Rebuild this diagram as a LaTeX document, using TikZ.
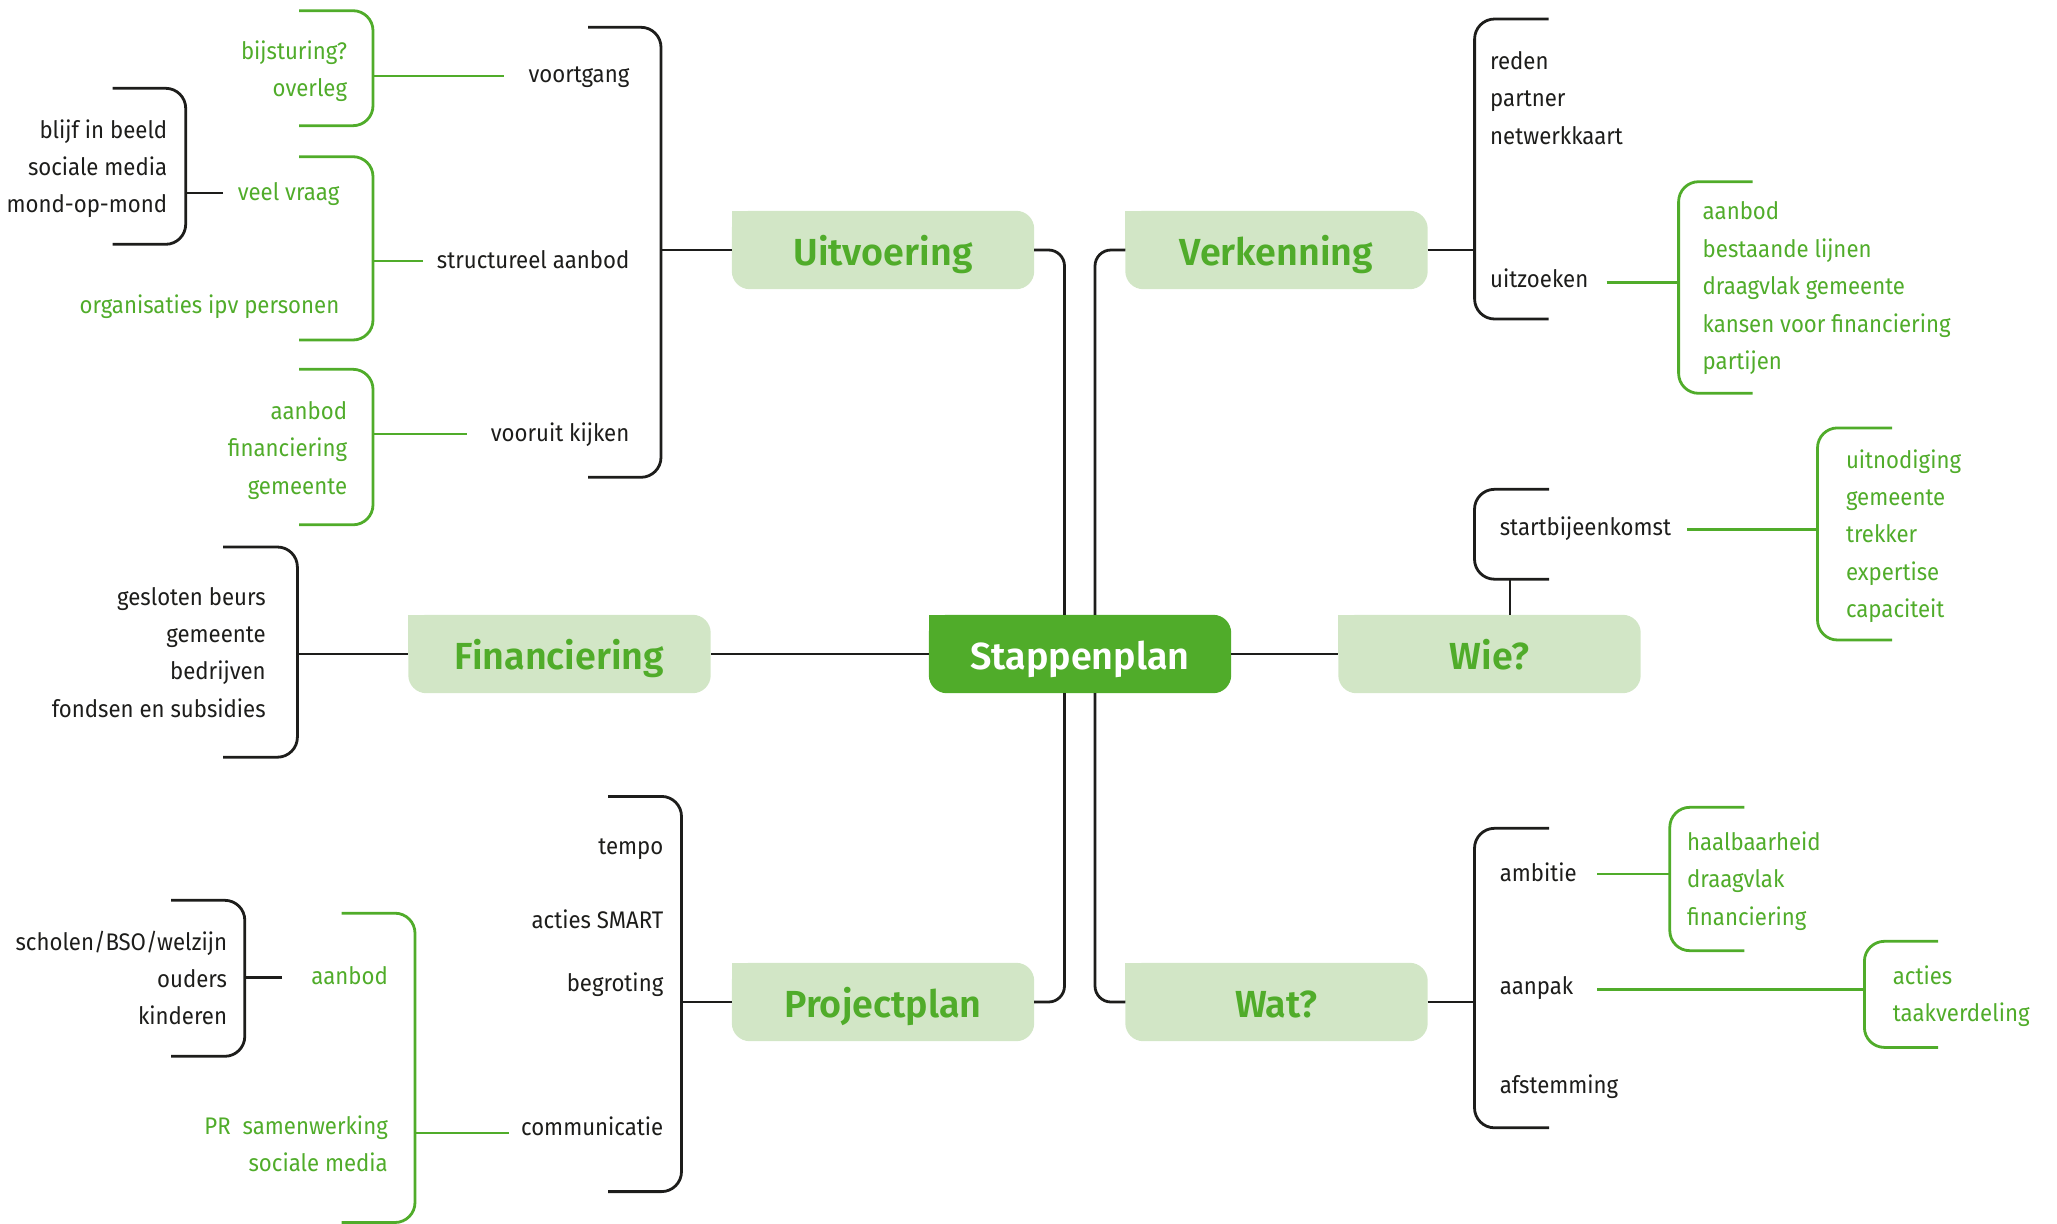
\documentclass[tikz,border=0pt]{standalone}
\usepackage{fontspec}
\setmainfont{Fira Sans}[FakeStretch=0.925]
\IfFontExistsTF{Fira Sans SemiBold}{\newfontfamily\titlefont{Fira Sans SemiBold}}{\newcommand\titlefont{\bfseries}}
\usetikzlibrary{backgrounds}
\definecolor{dgreen}{HTML}{50AC2A}
\definecolor{lgreen}{HTML}{D2E6C6}
\definecolor{ink}{HTML}{1D1D1B}
\tikzset{
  bline/.style={draw=ink, line width=2.8pt},
  gline/.style={draw=dgreen, line width=2.8pt},
  bbr/.style={bline, rounded corners=20pt},
  gbr/.style={gline, rounded corners=20pt},
  topic/.style={minimum width=302pt, minimum height=78pt, inner sep=0pt,
    font=\titlefont\fontsize{37.7}{40}\selectfont, text=dgreen,
    text height=30pt, text depth=0pt},
  itm/.style={inner sep=0pt, font=\fontsize{24}{28}\selectfont, text=ink, yshift=-5pt},
  gitm/.style={itm, text=dgreen},
  ritm/.style={itm, anchor=mid east},
  litm/.style={itm, anchor=mid west},
  rgitm/.style={gitm, anchor=mid east},
  lgitm/.style={gitm, anchor=mid west},
}
\begin{document}
\begin{tikzpicture}[x=1pt,y=-1pt]
\useasboundingbox (0,0) rectangle (2057,1224);

% ---- main boxes
\node[topic] (uit)  at (883,250)    {Uitvoering};
\node[topic] (ver)  at (1276.5,250) {Verkenning};
\node[topic] (fin)  at (559.5,654)  {Financiering};
\node[topic, text=white] (stap) at (1080,654) {Stappenplan};
\node[topic] (wie)  at (1489.5,654) {Wie?};
\node[topic] (proj) at (883,1002)   {Projectplan};
\node[topic] (wat)  at (1276.5,1002){Wat?};

\begin{scope}[on background layer]
  \foreach \n/\c in {uit/lgreen,ver/lgreen,fin/lgreen,stap/dgreen,wie/lgreen,proj/lgreen,wat/lgreen}{
    \fill[\c, rounded corners=18pt] (\n.north west) rectangle (\n.south east);
    \fill[\c] (\n.north west) rectangle (\n.center);
  }
\end{scope}

% ---- central connectors
\coordinate (xL) at (1064.5,0);
\coordinate (xR) at (1095,0);
\draw[bline, rounded corners=16pt] (uit.east)  -| (stap.north -| xL);
\draw[bline, rounded corners=16pt] (ver.west)  -| (stap.north -| xR);
\draw[bline, rounded corners=16pt] (proj.east) -| (stap.south -| xL);
\draw[bline, rounded corners=16pt] (wat.west)  -| (stap.south -| xR);
\draw[bline] (stap.west) -- (fin.east);
\draw[bline] (stap.east) -- (wie.west);

% ================= Uitvoering
\coordinate (sU) at (661,250);
\coordinate (sUt) at (588,27.3);
\coordinate (sUb) at (588,477.3);
\draw[bbr] (sUt) -| (sU) |- (sUb);
\draw[bline] (uit.west) -- (sU);
\node[ritm] (voort)   at (629.5,75)  {voortgang};
\node[ritm] (struct)  at (629.5,261) {structureel aanbod};
\node[ritm] (vooruit) at (629.5,434) {vooruit kijken};

\coordinate (g1) at (373,76);   \coordinate (g1t) at (299,10.7);  \coordinate (g1b) at (299,125.7);
\coordinate (g1e) at (503.6,76);
\draw[gbr] (g1t) -| (g1) |- (g1b);
\draw[gline] (g1e) -- (g1);
\node[rgitm] (bij)   at (347.3,51.7) {bijsturing?};
\node[rgitm] (overl) at (347.3,89.3) {overleg};

\coordinate (g2) at (373,261);  \coordinate (g2t) at (299,156.7); \coordinate (g2b) at (299,340);
\coordinate (g2e) at (423,261);
\draw[gbr] (g2t) -| (g2) |- (g2b);
\draw[gline] (g2e) -- (g2);
\node[rgitm] (veel) at (339.5,193) {veel vraag};
\node[rgitm] (org)  at (339.5,306) {organisaties ipv personen};

\coordinate (b4) at (185.7,193); \coordinate (b4t) at (112.5,88.3); \coordinate (b4b) at (112.5,244.3);
\coordinate (b4e) at (223,193);
\draw[bbr] (b4t) -| (b4) |- (b4b);
\draw[bline] (b4e) -- (b4);
\node[ritm] (blijf) at (167.4,130.7) {blijf in beeld};
\node[ritm] (soc1)  at (167.4,167.7) {sociale media};
\node[ritm] (mond)  at (167.4,205)   {mond-op-mond};

\coordinate (g3) at (373,434);  \coordinate (g3t) at (299,369.3); \coordinate (g3b) at (299,524.8);
\coordinate (g3e) at (466.5,434);
\draw[gbr] (g3t) -| (g3) |- (g3b);
\draw[gline] (g3e) -- (g3);
\node[rgitm] (aan1) at (347.3,411.7) {aanbod};
\node[rgitm] (fin1) at (347.3,449)   {financiering};
\node[rgitm] (gem1) at (347.3,486.7) {gemeente};

% ================= Financiering
\coordinate (sF) at (297.4,654); \coordinate (sFt) at (223,547); \coordinate (sFb) at (223,757.2);
\draw[bbr] (sFt) -| (sF) |- (sFb);
\draw[bline] (fin.west) -- (sF);
\node[ritm] (gesl)  at (265.9,597.9) {gesloten beurs};
\node[ritm] (gem2)  at (265.9,635.3) {gemeente};
\node[ritm] (bedr)  at (265.9,672.2) {bedrijven};
\node[ritm] (fonds) at (265.9,710)   {fondsen en subsidies};

% ================= Projectplan
\coordinate (sP) at (681.5,1002); \coordinate (sPt) at (608.2,796.4); \coordinate (sPb) at (608.2,1191.6);
\draw[bbr] (sPt) -| (sP) |- (sPb);
\draw[bline] (proj.west) -- (sP);
\node[ritm] (tempo) at (663.5,847.2) {tempo};
\node[ritm] (smart) at (663.5,921)   {acties SMART};
\node[ritm] (begr)  at (663.5,983.4) {begroting};
\node[ritm] (comm)  at (663.5,1128)  {communicatie};

\coordinate (g5) at (415,1133); \coordinate (g5t) at (341.6,913.2); \coordinate (g5b) at (341.6,1222.5);
\coordinate (g5e) at (508.7,1133);
\draw[gbr] (g5t) -| (g5) |- (g5b);
\draw[gline] (g5e) -- (g5);
\node[rgitm] (aan2) at (388,977)  {aanbod};
\node[rgitm] (pr)   at (388,1127) {PR\hspace{12pt}samenwerking};
\node[rgitm] (soc2) at (388,1164) {sociale media};

\coordinate (b6) at (244.8,977.8); \coordinate (b6t) at (171,900.3); \coordinate (b6b) at (171,1056.3);
\coordinate (b6e) at (282,977.8);
\draw[bbr] (b6t) -| (b6) |- (b6b);
\draw[bline] (b6e) -- (b6);
\node[ritm] (schol) at (227.3,943.2) {scholen/BSO/welzijn};
\node[ritm] (oud)   at (227.3,980)   {ouders};
\node[ritm] (kind)  at (227.3,1017)  {kinderen};

% ================= Verkenning
\coordinate (sV) at (1474.6,250); \coordinate (sVt) at (1548.7,19); \coordinate (sVb) at (1548.7,319);
\draw[bbr] (sVt) -| (sV) |- (sVb);
\draw[bline] (ver.east) -- (sV);
\node[litm] (reden)  at (1490,61.7)  {reden};
\node[litm] (partn)  at (1490,99)    {partner};
\node[litm] (netw)   at (1490,136.7) {netwerkkaart};
\node[litm] (uitz)   at (1490,280)   {uitzoeken};

\coordinate (g7) at (1678.6,282.3); \coordinate (g7t) at (1752.7,181.7); \coordinate (g7b) at (1752.7,393.3);
\coordinate (g7e) at (1606.5,282.3);
\draw[gbr] (g7t) -| (g7) |- (g7b);
\draw[gline] (g7e) -- (g7);
\node[lgitm] (aan3)  at (1702.5,211.7) {aanbod};
\node[lgitm] (best)  at (1702.5,250)   {bestaande lijnen};
\node[lgitm] (draag) at (1702.5,287.3) {draagvlak gemeente};
\node[lgitm] (kans)  at (1702.5,325)   {kansen voor financiering};
\node[lgitm] (part)  at (1702.5,362.3) {partijen};

% ================= Wie?
\coordinate (wbs) at (1474.5,534); \coordinate (wbt) at (1549,489.3); \coordinate (wbb) at (1549,579.2);
\coordinate (wbj) at (1510,579.2);
\draw[bbr] (wbt) -| (wbs) |- (wbb);
\draw[bline] (wie.north -| wbj) -- (wbj);
\node[litm] (start) at (1499.6,527.7) {startbijeenkomst};

\coordinate (g8) at (1817.5,529.3); \coordinate (g8t) at (1892,427.9); \coordinate (g8b) at (1892,640);
\coordinate (g8e) at (1687,529.3);
\draw[gbr] (g8t) -| (g8) |- (g8b);
\draw[gline] (g8e) -- (g8);
\node[lgitm] (uitn) at (1845.8,460.4) {uitnodiging};
\node[lgitm] (gem3) at (1845.8,498.3) {gemeente};
\node[lgitm] (trek) at (1845.8,535)   {trekker};
\node[lgitm] (exp)  at (1845.8,572.4) {expertise};
\node[lgitm] (cap)  at (1845.8,610.2) {capaciteit};

% ================= Wat?
\coordinate (sW) at (1474.5,1002); \coordinate (sWt) at (1549,828.3); \coordinate (sWb) at (1549,1127.8);
\draw[bbr] (sWt) -| (sW) |- (sWb);
\draw[bline] (wat.east) -- (sW);
\node[litm] (amb)  at (1499.6,874)    {ambitie};
\node[litm] (aanp) at (1499.6,986.7)  {aanpak};
\node[litm] (afst) at (1499.6,1085.8) {afstemming};

\coordinate (g9) at (1669.8,874); \coordinate (g9t) at (1744.3,807.3); \coordinate (g9b) at (1744.3,950.7);
\coordinate (g9e) at (1597,874);
\draw[gbr] (g9t) -| (g9) |- (g9b);
\draw[gline] (g9e) -- (g9);
\node[lgitm] (haal)  at (1687,843)   {haalbaarheid};
\node[lgitm] (draa2) at (1687,879.8) {draagvlak};
\node[lgitm] (fin3)  at (1687,918.1) {financiering};

\coordinate (g10) at (1864.4,989.5); \coordinate (g10t) at (1938.2,941.3); \coordinate (g10b) at (1938.2,1047.4);
\coordinate (g10e) at (1597,989.5);
\draw[gbr] (g10t) -| (g10) |- (g10b);
\draw[gline] (g10e) -- (g10);
\node[lgitm] (act)  at (1892.6,977)    {acties};
\node[lgitm] (taak) at (1892.6,1013.8) {taakverdeling};
\end{tikzpicture}
\end{document}
